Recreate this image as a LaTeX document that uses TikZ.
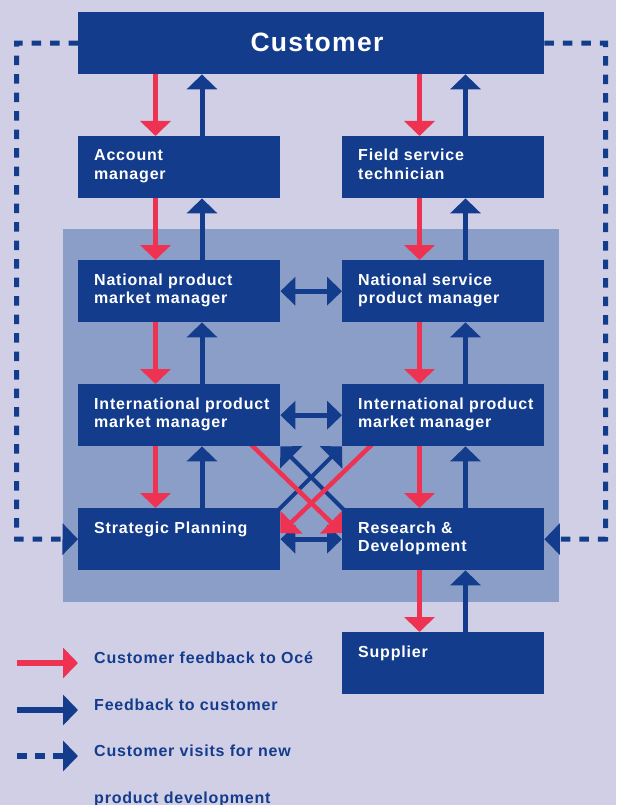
\documentclass[tikz,border=0pt]{standalone}
\usepackage{fontspec}
\setmainfont{Liberation Sans}
\newfontfamily\lblfont{Liberation Sans}[LetterSpace=5]
\usetikzlibrary{arrows.meta,calc}

\definecolor{pagebg}{RGB}{208,207,230}
\definecolor{panelbg}{RGB}{138,158,199}
\definecolor{navy}{RGB}{20,60,140}
\definecolor{alert}{RGB}{238,50,82}

\pgfdeclarelayer{backdrop}
\pgfdeclarelayer{links}
\pgfsetlayers{backdrop,links,main}

\tikzset{
  box/.style={fill=navy, draw=none, minimum width=202pt, minimum height=62pt,
    inner sep=0pt, anchor=north west},
  % the base anchor of a multi-line node sits on its last line
  lbl/.style={text=white, anchor=base west, align=left, inner sep=0pt,
    font=\lblfont\bfseries\fontsize{16}{18}\selectfont},
  keytext/.style={text=navy, anchor=base west, align=left, inner sep=0pt,
    font=\lblfont\bfseries\fontsize{16}{47}\selectfont},
  tipv/.tip={Triangle[length=15pt,width=30pt]},
  tiph/.tip={Triangle[length=15pt,width=28pt]},
  tipd/.tip={Triangle[length=15.5pt,width=31pt]},
  down/.style={alert, line width=5pt, -tipv},
  up/.style={navy, line width=5pt, -tipv},
  both/.style={navy, line width=5pt, tiph-tiph},
  diagred/.style={alert, line width=4.5pt, shorten <=-6pt, -tipd},
  diagblue/.style={navy, line width=4pt, shorten <=-6pt, -tipd},
  visit/.style={navy, line width=5pt, dash pattern=on 9.5pt off 9pt, -tipd},
  keyline/.style={line width=6pt, -{Triangle[length=15pt,width=30pt]}},
}

\begin{document}
\begin{tikzpicture}[x=1pt,y=-1pt]
\useasboundingbox (0,0) rectangle (616,805);

% page and the shaded organisation panel
\begin{pgfonlayer}{backdrop}
  \fill[pagebg] (0,0) rectangle (616,805);
  \fill[panelbg] (63,229) rectangle (559,602);
\end{pgfonlayer}

% boxes
\node[box, minimum width=466pt] (cust) at (78,12) {};
\node[box] (am) at (78,136) {};
\node[box] (fs) at (342,136) {};
\node[box] (np) at (78,260) {};
\node[box] (ns) at (342,260) {};
\node[box] (il) at (78,384) {};
\node[box] (ir) at (342,384) {};
\node[box] (sp) at (78,508) {};
\node[box] (rd) at (342,508) {};
\node[box] (su) at (342,632) {};

% box labels (two-line labels are placed by their second baseline)
\node[text=white, anchor=base, inner sep=0pt,
  font=\lblfont\bfseries\fontsize{26.5}{30}\selectfont] (custtxt) at (317,52) {Customer};
\node[lbl] (amtxt) at ($(am.north west)+(16,43)$) {Account\\manager};
\node[lbl] (fstxt) at ($(fs.north west)+(16,43)$) {Field service\\technician};
\node[lbl] (nptxt) at ($(np.north west)+(16,43)$) {National product\\market manager};
\node[lbl] (nstxt) at ($(ns.north west)+(16,43)$) {National service\\product manager};
\node[lbl] (iltxt) at ($(il.north west)+(16,43)$) {International product\\market manager};
\node[lbl] (irtxt) at ($(ir.north west)+(16,43)$) {International product\\market manager};
\node[lbl] (sptxt) at ($(sp.north west)+(16,25)$) {Strategic Planning};
\node[lbl] (rdtxt) at ($(rd.north west)+(16,43)$) {Research \&\\Development};
\node[lbl] (sutxt) at ($(su.north west)+(16,25)$) {Supplier};

% columns of the vertical flows
\coordinate (colLr) at ([xshift=77.5pt]am.west);
\coordinate (colLb) at ([xshift=124pt]am.west);
\coordinate (colRr) at ([xshift=77.5pt]fs.west);
\coordinate (colRb) at ([xshift=123.5pt]fs.west);
\coordinate (railL) at (16.5,539);
\coordinate (railR) at (605.5,539);

\begin{pgfonlayer}{links}
  % left column
  \draw[down] (cust.south -| colLr) -- (am.north -| colLr);
  \draw[up]   (am.north -| colLb) -- (cust.south -| colLb);
  \draw[down] (am.south -| colLr) -- (np.north -| colLr);
  \draw[up]   (np.north -| colLb) -- (am.south -| colLb);
  \draw[down] (np.south -| colLr) -- (il.north -| colLr);
  \draw[up]   (il.north -| colLb) -- (np.south -| colLb);
  \draw[down] (il.south -| colLr) -- (sp.north -| colLr);
  \draw[up]   (sp.north -| colLb) -- (il.south -| colLb);
  % right column
  \draw[down] (cust.south -| colRr) -- (fs.north -| colRr);
  \draw[up]   (fs.north -| colRb) -- (cust.south -| colRb);
  \draw[down] (fs.south -| colRr) -- (ns.north -| colRr);
  \draw[up]   (ns.north -| colRb) -- (fs.south -| colRb);
  \draw[down] (ns.south -| colRr) -- (ir.north -| colRr);
  \draw[up]   (ir.north -| colRb) -- (ns.south -| colRb);
  \draw[down] (ir.south -| colRr) -- (rd.north -| colRr);
  \draw[up]   (rd.north -| colRb) -- (ir.south -| colRb);
  \draw[down] (rd.south -| colRr) -- (su.north -| colRr);
  \draw[up]   (su.north -| colRb) -- (rd.south -| colRb);
  % exchanges between the two columns
  \draw[both] (np.east) -- (ns.west);
  \draw[both] (il.east) -- (ir.west);
  \draw[both] (sp.east) -- (rd.west);
  % crossing flows
  \draw[diagblue] (rd.north west) -- (il.south east);
  \draw[diagblue] (sp.north east) -- (ir.south west);
  \draw[diagred] ([xshift=175pt]il.south west) -- ([yshift=-25pt]rd.north west);
  \draw[diagred] ([xshift=28pt]ir.south west) -- ([yshift=-25pt]sp.north east);
  % customer visits
  \draw[visit] (cust.west) -| (railL) -- (sp.west);
  \draw[visit] (cust.east) -| (railR) -- (rd.east);
\end{pgfonlayer}

% key
\coordinate (k1a) at (17,663); \coordinate (k1b) at (78,663);
\coordinate (k2a) at (17,710); \coordinate (k2b) at (78,710);
\coordinate (k3a) at (17,756); \coordinate (k3b) at (78,756);
\draw[keyline, alert] (k1a) -- (k1b);
\draw[keyline, navy] (k2a) -- (k2b);
\draw[keyline, navy, dash pattern=on 10pt off 8pt] (k3a) -- (k3b);
\node[keytext] (key1) at (94,663) {Customer feedback to Océ};
\node[keytext] (key2) at (94,710) {Feedback to customer};
\node[keytext] (key3) at (94,803) {Customer visits for new\\product development};
\end{tikzpicture}
\end{document}
